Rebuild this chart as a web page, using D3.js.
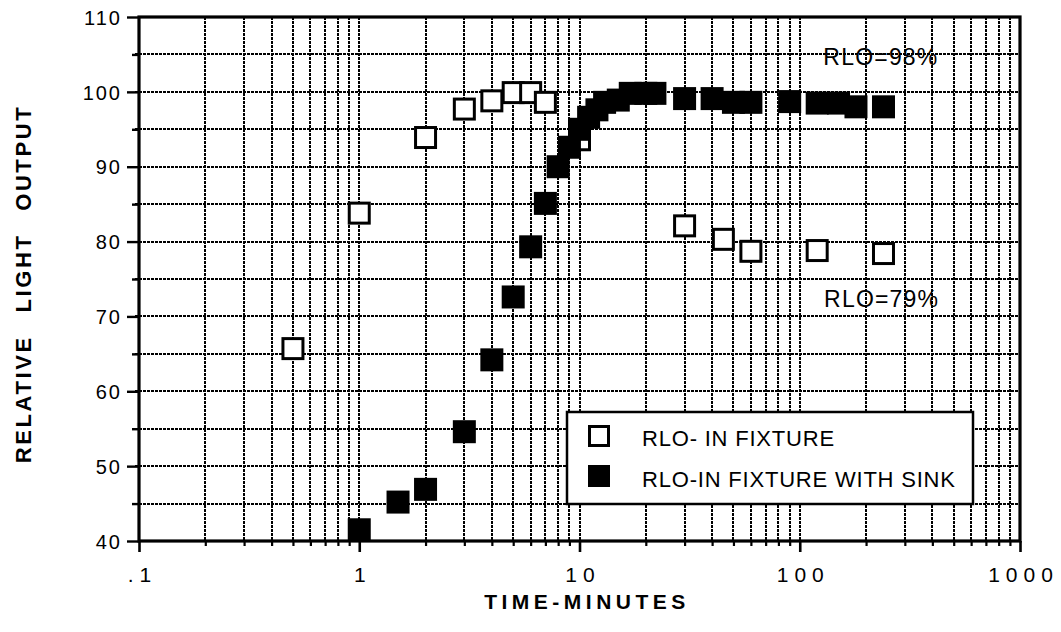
<!DOCTYPE html>
<html>
<head>
<meta charset="utf-8">
<script src="https://cdn.jsdelivr.net/npm/d3@7"></script>
<style>
  html, body { margin: 0; padding: 0; background: #fff; }
  svg { display: block; }
  text { font-family: "Liberation Sans", Arial, Helvetica, sans-serif; fill: #000; }
</style>
</head>
<body>
<svg id="chart" width="1061" height="632"></svg>
<script>
// ---- data ----
const xTickValues = [0.1, 1, 10, 100, 1000];
const xTickLabels = [".1", "1", "10", "100", "1000"];
const yTickValues = [40, 50, 60, 70, 80, 90, 100, 110];

const openX = [0.5, 1, 2, 3, 4, 5, 6, 7, 10, 30, 45, 60, 120, 240];
const openY = [65.7, 83.8, 93.9, 97.7, 98.8, 99.9, 99.9, 98.6, 93.6, 82.1, 80.3, 78.7, 78.8, 78.4];

const sinkX = [1, 1.5, 2, 3, 4, 5, 6, 7, 8, 9, 10, 11, 12, 13, 15, 17, 20, 22, 30, 40, 50, 60, 90, 120, 150, 180, 240];
const sinkY = [41.5, 45.2, 46.9, 54.6, 64.2, 72.6, 79.3, 85.1, 90.0, 92.6, 95.0, 96.6, 97.6, 98.6, 98.9, 99.8, 99.8, 99.8, 99.1, 99.1, 98.6, 98.6, 98.7, 98.5, 98.5, 98.0, 98.0];

const legendLabels = ["RLO- IN FIXTURE", "RLO-IN FIXTURE WITH SINK"];
const annotationTexts = ["RLO=98%", "RLO=79%"];
const annotationX = [128, 129];
const annotationY = [103.6, 71.3];

// ---- layout ----
const svg = d3.select("#chart");
const L = 139, R = 1020, T = 17, B = 541;
const x = d3.scaleLog().domain([0.1, 1000]).range([L, R]);
const y = d3.scaleLinear().domain([40, 110]).range([B, T]);

// grid values
const vGrid = [];
[0.1, 1, 10, 100].forEach(d => { for (let k = 2; k <= 9; k++) vGrid.push(k * d); if (d > 0.1) vGrid.push(d); });
const hGrid = d3.range(45, 110, 5);

const grid = svg.append("g");
grid.selectAll("line.v").data(vGrid).join("line")
  .attr("x1", d => Math.round(x(d))).attr("x2", d => Math.round(x(d)))
  .attr("y1", T).attr("y2", B)
  .attr("stroke", "#000").attr("stroke-width", 2).attr("stroke-dasharray", "3,1");
grid.selectAll("line.h").data(hGrid).join("line")
  .attr("x1", L - 4).attr("x2", R)
  .attr("y1", d => Math.round(y(d))).attr("y2", d => Math.round(y(d)))
  .attr("stroke", "#000").attr("stroke-width", 2).attr("stroke-dasharray", "3,1");

// y axis
const yAxis = d3.axisLeft(y).tickValues(d3.range(40, 111, 5))
  .tickSize(12).tickPadding(8)
  .tickFormat(d => (d % 10 === 0 ? d : ""));
const gy = svg.append("g").attr("transform", `translate(${L},0)`).call(yAxis);
gy.select(".domain").remove();
gy.selectAll(".tick line").attr("stroke", "#000").attr("stroke-width", 2.4)
  .attr("x2", d => (d % 10 === 0 ? -12 : -7));
gy.selectAll(".tick text").attr("font-size", 20).attr("letter-spacing", 2)
  .attr("x", -17).attr("dy", "0.36em")
  .style("font-family", "'Liberation Sans', Arial, sans-serif");

// x axis
const xMinor = vGrid.filter(d => !xTickValues.includes(d));
const gxm = svg.append("g").attr("transform", `translate(0,${B})`)
  .call(d3.axisBottom(x).tickValues(xMinor).tickSize(5).tickFormat(""));
gxm.select(".domain").remove();
gxm.selectAll(".tick line").attr("stroke", "#000").attr("stroke-width", 2.2);

const gx = svg.append("g").attr("transform", `translate(0,${B})`)
  .call(d3.axisBottom(x).tickValues(xTickValues).tickSize(11).tickPadding(15)
    .tickFormat((d, i) => xTickLabels[i]));
gx.select(".domain").remove();
gx.selectAll(".tick line").attr("stroke", "#000").attr("stroke-width", 2.6);
gx.selectAll(".tick text").attr("font-size", 21).attr("letter-spacing", 6).attr("dx", 3)
  .style("font-family", "'Liberation Sans', Arial, sans-serif");

// frame
svg.append("rect").attr("x", L).attr("y", T).attr("width", R - L).attr("height", B - T)
  .attr("fill", "none").attr("stroke", "#000").attr("stroke-width", 3.2);

// markers
const S = 23;
svg.append("g").selectAll("rect").data(openX.map((d, i) => [d, openY[i]])).join("rect")
  .attr("x", d => x(d[0]) - S / 2 + 1.5).attr("y", d => y(d[1]) - S / 2 + 1.5)
  .attr("width", S - 3).attr("height", S - 3)
  .attr("fill", "#fff").attr("stroke", "#000").attr("stroke-width", 3);
svg.append("g").selectAll("rect").data(sinkX.map((d, i) => [d, sinkY[i]])).join("rect")
  .attr("x", d => x(d[0]) - S / 2).attr("y", d => y(d[1]) - S / 2)
  .attr("width", S).attr("height", S).attr("fill", "#000");

// annotations
svg.append("g").selectAll("text").data(annotationTexts).join("text")
  .attr("x", (d, i) => x(annotationX[i])).attr("y", (d, i) => y(annotationY[i]))
  .attr("font-size", 23).attr("letter-spacing", 1.2)
  .text(d => d);

// legend
const lg = svg.append("g");
lg.append("rect").attr("x", 567).attr("y", 412).attr("width", 406).attr("height", 92)
  .attr("fill", "#fff").attr("stroke", "#000").attr("stroke-width", 2.5);
lg.append("rect").attr("x", 589.5).attr("y", 426.5).attr("width", 19).attr("height", 19)
  .attr("fill", "#fff").attr("stroke", "#000").attr("stroke-width", 3);
lg.append("rect").attr("x", 588).attr("y", 465).attr("width", 22).attr("height", 22)
  .attr("fill", "#000");
lg.selectAll("text").data(legendLabels).join("text")
  .attr("x", 642).attr("y", (d, i) => 446 + i * 41)
  .attr("font-size", 22).attr("letter-spacing", 0.8)
  .text(d => d);

// axis titles
svg.append("text").attr("x", 585).attr("y", 609).attr("text-anchor", "middle")
  .attr("font-size", 21).attr("font-weight", "bold").attr("letter-spacing", 4.5).attr("dx", 2)
  .text("TIME-MINUTES");
svg.append("text").attr("transform", "translate(31,284) rotate(-90)").attr("text-anchor", "middle")
  .attr("font-size", 22).attr("font-weight", "bold").attr("letter-spacing", 2.6)
  .attr("word-spacing", 14)
  .text("RELATIVE LIGHT OUTPUT");
</script>
</body>
</html>
